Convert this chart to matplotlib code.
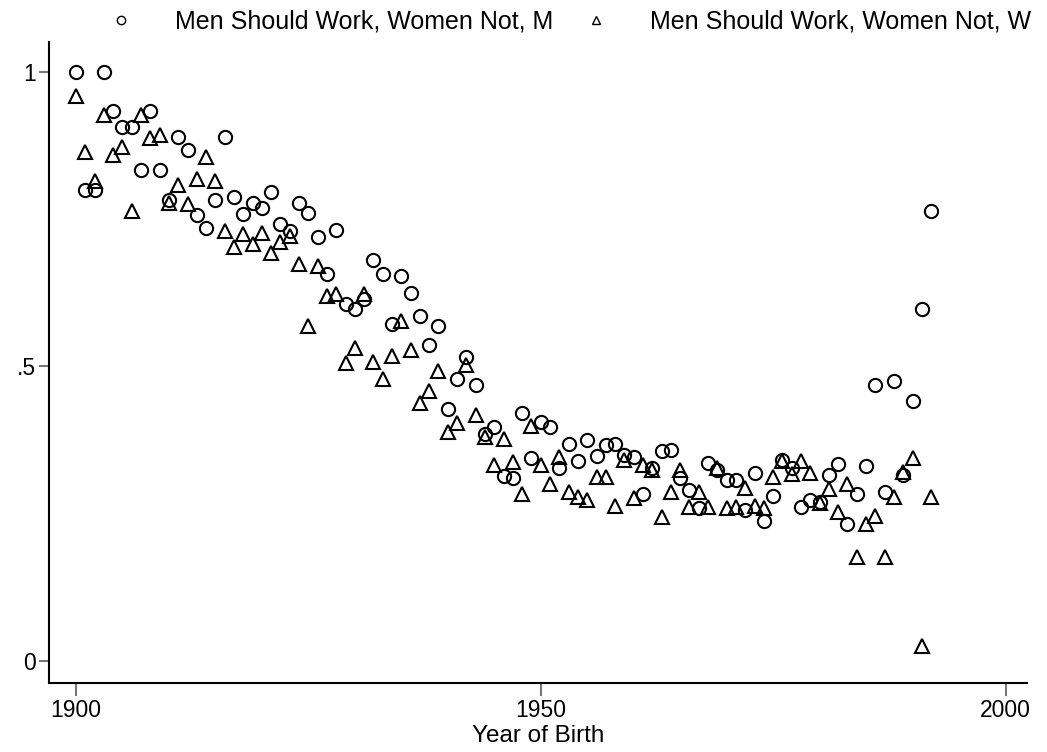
import matplotlib
matplotlib.use("Agg")
import matplotlib.pyplot as plt
from matplotlib.lines import Line2D

plt.rcParams['font.family'] = ['Liberation Sans', 'DejaVu Sans']

years = list(range(1900, 1993))

# share agreeing "men should work, women not" - male respondents
men = [1.0, 0.80, 0.80, 1.0, 0.934, 0.906, 0.906, 0.833, 0.934, 0.833,
       0.783, 0.89, 0.868, 0.757, 0.735, 0.783, 0.89, 0.788, 0.758, 0.777,
       0.769, 0.796, 0.742, 0.729, 0.777, 0.760, 0.719, 0.656, 0.732, 0.606,
       0.598, 0.615, 0.680, 0.657, 0.572, 0.653, 0.625, 0.586, 0.536, 0.568,
       0.428, 0.478, 0.516, 0.468, 0.386, 0.397, 0.314, 0.310, 0.421, 0.344,
       0.406, 0.398, 0.328, 0.369, 0.339, 0.376, 0.348, 0.366, 0.369, 0.350,
       0.347, 0.283, 0.327, 0.356, 0.358, 0.311, 0.291, 0.260, 0.337, 0.324,
       0.308, 0.308, 0.256, 0.320, 0.237, 0.281, 0.342, 0.327, 0.262, 0.273,
       0.270, 0.316, 0.334, 0.232, 0.284, 0.331, 0.469, 0.287, 0.476, 0.315,
       0.442, 0.598, 0.764]

# female respondents
women = [0.958, 0.863, 0.815, 0.927, 0.858, 0.873, 0.764, 0.927, 0.888, 0.893,
         0.778, 0.807, 0.776, 0.818, 0.855, 0.815, 0.730, 0.703, 0.725, 0.707,
         0.726, 0.693, 0.711, 0.722, 0.673, 0.568, 0.670, 0.620, 0.623, 0.505,
         0.531, 0.623, 0.507, 0.479, 0.517, 0.577, 0.528, 0.438, 0.458, 0.493,
         0.389, 0.404, 0.502, 0.418, 0.380, 0.332, 0.377, 0.338, 0.284, 0.399,
         0.332, 0.300, 0.346, 0.287, 0.279, 0.273, 0.312, 0.312, 0.263, 0.342,
         0.276, 0.333, 0.325, 0.245, 0.287, 0.324, 0.262, 0.287, 0.262, 0.327,
         0.259, 0.262, 0.294, 0.264, 0.259, 0.312, 0.339, 0.318, 0.339, 0.319,
         0.268, 0.292, 0.253, 0.301, 0.177, 0.233, 0.246, 0.177, 0.278, 0.321,
         0.344, 0.025, 0.278]

labels = ["Men Should Work, Women Not, M", "Men Should Work, Women Not, W"]

fig = plt.figure(figsize=(10.47, 7.52), dpi=100)
ax = fig.add_axes([0.0468, 0.0918, 0.934, 0.852])

ax.plot(years, men, linestyle='none', marker='o', markersize=9.5,
        markerfacecolor='none', markeredgecolor='black', markeredgewidth=1.5)
ax.plot(years, women, linestyle='none', marker='^', markersize=10,
        markerfacecolor='none', markeredgecolor='black', markeredgewidth=1.5)

ax.set_xlim(1897.1, 2002.3)
ax.set_ylim(-0.037, 1.05)
ax.set_xticks([1900, 1950, 2000])
ax.set_yticks([0, 0.5, 1])
ax.set_yticklabels(["0", ".5", "1"])
ax.tick_params(axis='both', labelsize=16.5, color='#777777', width=1.5)
ax.tick_params(axis='x', length=9.5, pad=2)
ax.tick_params(axis='y', length=7.5, pad=2)
ax.set_xlabel("Year of Birth", fontsize=17.5, labelpad=2)

for s in ['top', 'right']:
    ax.spines[s].set_visible(False)
for s in ['left', 'bottom']:
    ax.spines[s].set_linewidth(1.5)

handles = [Line2D([], [], linestyle='none', marker='o', markersize=6,
                  markerfacecolor='none', markeredgecolor='black', markeredgewidth=1),
           Line2D([], [], linestyle='none', marker='^', markersize=6,
                  markerfacecolor='none', markeredgecolor='black', markeredgewidth=1)]
fig.legend(handles, labels, ncol=2, frameon=False, fontsize=18,
           loc='upper left', bbox_to_anchor=(0.0765, 1.017),
           handletextpad=1.4, columnspacing=0.96, handlelength=1.5)

fig.savefig("out.png", dpi=100, facecolor='white')
